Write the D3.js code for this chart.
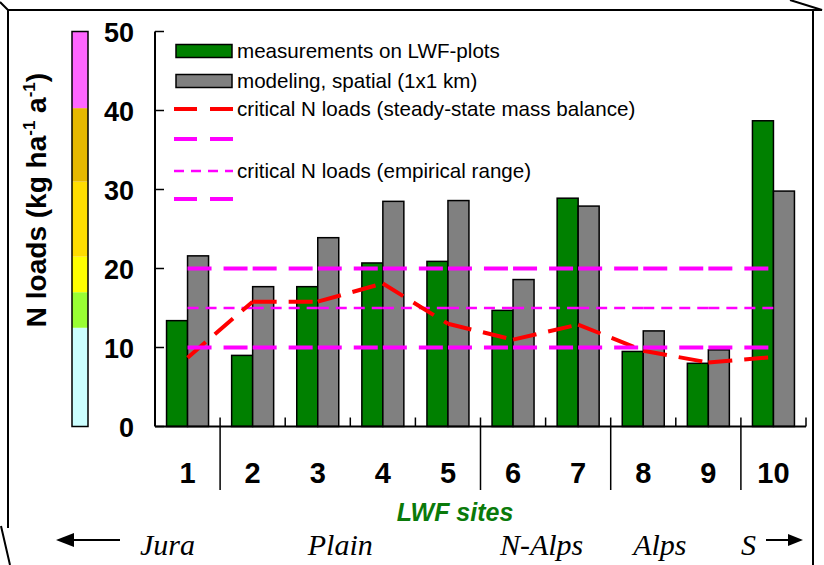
<!DOCTYPE html>
<html lang="en">
<head>
<meta charset="utf-8">
<title>N loads at LWF sites</title>
<script src="https://cdn.jsdelivr.net/npm/d3@7"></script>
<style>
  body { margin: 0; background: #fff; }
  svg { display: block; }
  .sans { font-family: "Liberation Sans", Arial, sans-serif; }
  .serif { font-family: "Liberation Serif", "Times New Roman", serif; font-style: italic; }
  .tick-label { font-size: 27px; font-weight: bold; }
  .legend-text { font-size: 20.6px; }
</style>
</head>
<body>
<script>
// ---- data ----
var sites = ["1", "2", "3", "4", "5", "6", "7", "8", "9", "10"];
var measured = [13.4, 9.0, 17.7, 20.7, 20.9, 14.7, 28.9, 9.5, 8.0, 38.7];   // measurements on LWF-plots
var modeled  = [21.6, 17.7, 23.9, 28.5, 28.6, 18.6, 27.9, 12.1, 9.7, 29.8]; // modeling, spatial (1x1 km)
var critMassBalance = [8.7, 15.8, 15.8, 18.1, 13.0, 11.0, 12.9, 9.6, 8.1, 8.8];
var empiricalLow = 10, empiricalMid = 15, empiricalHigh = 20;
var yTicks = [0, 10, 20, 30, 40, 50];
var colorBreaks = [0, 12.5, 17, 21.5, 31, 40.3, 50];
var colorBarColors = ["#ccffff", "#99ff33", "#ffff00", "#ffdd00", "#e6b800", "#ff66ff"];
var regions = [
  {name: "Jura", first: "1", last: "1"},
  {name: "Plain", first: "2", last: "5"},
  {name: "N-Alps", first: "6", last: "7"},
  {name: "Alps", first: "8", last: "9"},
  {name: "S", first: "10", last: "10"}
];
var legendItems = [
  {type: "rect", color: "#008000", label: "measurements on LWF-plots"},
  {type: "rect", color: "#808080", label: "modeling, spatial (1x1 km)"},
  {type: "line", color: "#ff0000", width: 4, dash: "23,13", label: "critical N loads (steady-state mass balance)"},
  {type: "line", color: "#ff00ff", width: 4, dash: "23,13", label: ""},
  {type: "line", color: "#ff00ff", width: 2.5, dash: "10,7", label: "critical N loads (empirical range)"},
  {type: "line", color: "#ff00ff", width: 4, dash: "23,13", label: ""}
];

var width = 824, height = 565;
var svg = d3.select("body").append("svg")
  .attr("width", width)
  .attr("height", height);

// outer frame (3d box look)
var frame = svg.append("g").attr("stroke", "#000").attr("stroke-width", 2).attr("fill", "none");
frame.append("path").attr("d", "M0,2 L8,10 L822,10 L790,0");
frame.append("path").attr("d", "M8,10 L8,528 M1,526 L10,565");
frame.append("path").attr("d", "M813,10 L813,565");

var y = d3.scaleLinear().domain([0, 50]).range([426.5, 31.5]);
var x = d3.scaleBand().domain(sites).range([155, 806]);
var xInner = d3.scaleBand().domain(["m", "s"]).range([0, x.bandwidth()]).paddingOuter(0.55);

// colour bar
svg.append("g").selectAll("rect")
  .data(colorBarColors)
  .enter()
  .append("rect")
  .attr("x", 72)
  .attr("width", 16)
  .attr("y", function(d, i) { return y(colorBreaks[i + 1]); })
  .attr("height", function(d, i) { return y(colorBreaks[i]) - y(colorBreaks[i + 1]); })
  .attr("fill", function(d) { return d; });
svg.append("rect")
  .attr("x", 72).attr("width", 16)
  .attr("y", y(50)).attr("height", y(0) - y(50))
  .attr("fill", "none").attr("stroke", "#000").attr("stroke-width", 1.5);

// y axis title
var yTitle = svg.append("text")
  .attr("class", "sans")
  .attr("transform", "translate(46,200) rotate(-90)")
  .attr("text-anchor", "middle")
  .attr("font-size", 28)
  .attr("font-weight", "bold");
yTitle.append("tspan").text("N loads (kg ha");
yTitle.append("tspan").attr("dy", -11).attr("font-size", 17).text("-1");
yTitle.append("tspan").attr("dy", 11).text(" a");
yTitle.append("tspan").attr("dy", -11).attr("font-size", 17).text("-1");
yTitle.append("tspan").attr("dy", 11).text(")");

// y tick labels
svg.append("g").selectAll("text")
  .data(yTicks)
  .enter()
  .append("text")
  .attr("class", "sans tick-label")
  .attr("x", 134)
  .attr("y", function(d) { return y(d) + 10; })
  .attr("text-anchor", "end")
  .text(function(d) { return d; });

// bars
var groups = svg.append("g").selectAll("g")
  .data(sites)
  .enter()
  .append("g")
  .attr("transform", function(d) { return "translate(" + x(d) + ",0)"; });
groups.append("rect")
  .attr("x", xInner("m"))
  .attr("width", xInner.bandwidth())
  .attr("y", function(d, i) { return y(measured[i]); })
  .attr("height", function(d, i) { return y(0) - y(measured[i]); })
  .attr("fill", "#008000").attr("stroke", "#000").attr("stroke-width", 1.5);
groups.append("rect")
  .attr("x", xInner("s"))
  .attr("width", xInner.bandwidth())
  .attr("y", function(d, i) { return y(modeled[i]); })
  .attr("height", function(d, i) { return y(0) - y(modeled[i]); })
  .attr("fill", "#808080").attr("stroke", "#000").attr("stroke-width", 1.5);

// axes lines
var cx = function(d) { return x(d) + x.bandwidth() / 2; };
svg.append("line")
  .attr("x1", 155).attr("x2", 155).attr("y1", y(50)).attr("y2", y(0))
  .attr("stroke", "#000").attr("stroke-width", 2);
svg.append("g").selectAll("line")
  .data(yTicks)
  .enter()
  .append("line")
  .attr("x1", 155).attr("x2", 164)
  .attr("y1", function(d) { return y(d); })
  .attr("y2", function(d) { return y(d); })
  .attr("stroke", "#000").attr("stroke-width", 1.5);
svg.append("line")
  .attr("x1", 155).attr("x2", 806).attr("y1", y(0)).attr("y2", y(0))
  .attr("stroke", "#000").attr("stroke-width", 2);
svg.append("g").selectAll("line")
  .data(sites)
  .enter()
  .append("line")
  .attr("x1", function(d) { return x(d) + x.bandwidth(); })
  .attr("x2", function(d) { return x(d) + x.bandwidth(); })
  .attr("y1", y(0)).attr("y2", y(0) - 9)
  .attr("stroke", "#000").attr("stroke-width", 1.5);

// dashed lines, dash pattern restarts on every segment (like the original)
function segLine(values, color, w, dash) {
  var g = svg.append("g");
  for (var i = 0; i < sites.length - 1; i++) {
    g.append("line")
      .attr("x1", cx(sites[i])).attr("y1", y(values[i]))
      .attr("x2", cx(sites[i + 1])).attr("y2", y(values[i + 1]))
      .attr("stroke", color).attr("stroke-width", w)
      .attr("stroke-dasharray", dash);
  }
}
segLine(sites.map(function() { return empiricalHigh; }), "#ff00ff", 4, "24,12");
segLine(sites.map(function() { return empiricalMid; }), "#ff00ff", 2.5, "11,7");
segLine(critMassBalance, "#ff0000", 4, "24,12");
segLine(sites.map(function() { return empiricalLow; }), "#ff00ff", 4, "24,12");

// site numbers and group separators
svg.append("g").selectAll("text")
  .data(sites)
  .enter()
  .append("text")
  .attr("class", "sans")
  .attr("font-size", 29).attr("font-weight", "bold")
  .attr("text-anchor", "middle")
  .attr("x", cx)
  .attr("y", 483)
  .text(function(d) { return d; });
svg.append("g").selectAll("line")
  .data(regions.slice(1))
  .enter()
  .append("line")
  .attr("x1", function(d) { return x(d.first); })
  .attr("x2", function(d) { return x(d.first); })
  .attr("y1", y(0)).attr("y2", 490)
  .attr("stroke", "#000").attr("stroke-width", 1.5);

svg.append("text")
  .attr("class", "sans")
  .attr("x", 455).attr("y", 521)
  .attr("text-anchor", "middle")
  .attr("font-size", 25).attr("font-weight", "bold").attr("font-style", "italic")
  .attr("fill", "#0a7a0a")
  .text("LWF sites");

// region labels (hand nudged like the text boxes in the original)
var regionNudge = {"Jura": -20, "Plain": -10, "N-Alps": -4, "Alps": -16, "S": -25};
svg.append("g").selectAll("text")
  .data(regions)
  .enter()
  .append("text")
  .attr("class", "serif")
  .attr("font-size", 30)
  .attr("text-anchor", "middle")
  .attr("x", function(d) { return (x(d.first) + x(d.last) + x.bandwidth()) / 2 + regionNudge[d.name]; })
  .attr("y", 555)
  .text(function(d) { return d.name; });

// arrows
svg.append("line").attr("x1", 70).attr("x2", 120).attr("y1", 540).attr("y2", 540)
  .attr("stroke", "#000").attr("stroke-width", 2);
svg.append("path").attr("d", "M56,540 L74,533 L74,547 Z").attr("fill", "#000");
svg.append("line").attr("x1", 766).attr("x2", 792).attr("y1", 540).attr("y2", 540)
  .attr("stroke", "#000").attr("stroke-width", 2);
svg.append("path").attr("d", "M803,540 L788,534 L788,546 Z").attr("fill", "#000");

// legend
var rowY = [51, 81, 109, 139, 171, 199];
var leg = svg.append("g").selectAll("g")
  .data(legendItems)
  .enter()
  .append("g")
  .attr("transform", function(d, i) { return "translate(0," + rowY[i] + ")"; });
leg.filter(function(d) { return d.type === "rect"; })
  .append("rect")
  .attr("x", 176).attr("y", -6.5).attr("width", 56).attr("height", 13)
  .attr("fill", function(d) { return d.color; })
  .attr("stroke", "#000").attr("stroke-width", 1.5);
leg.filter(function(d) { return d.type === "line"; })
  .append("line")
  .attr("x1", 174).attr("x2", 233).attr("y1", 0).attr("y2", 0)
  .attr("stroke", function(d) { return d.color; })
  .attr("stroke-width", function(d) { return d.width; })
  .attr("stroke-dasharray", function(d) { return d.dash; });
leg.append("text")
  .attr("class", "sans legend-text")
  .attr("x", 237).attr("y", 7)
  .text(function(d) { return d.label; });
</script>
</body>
</html>
